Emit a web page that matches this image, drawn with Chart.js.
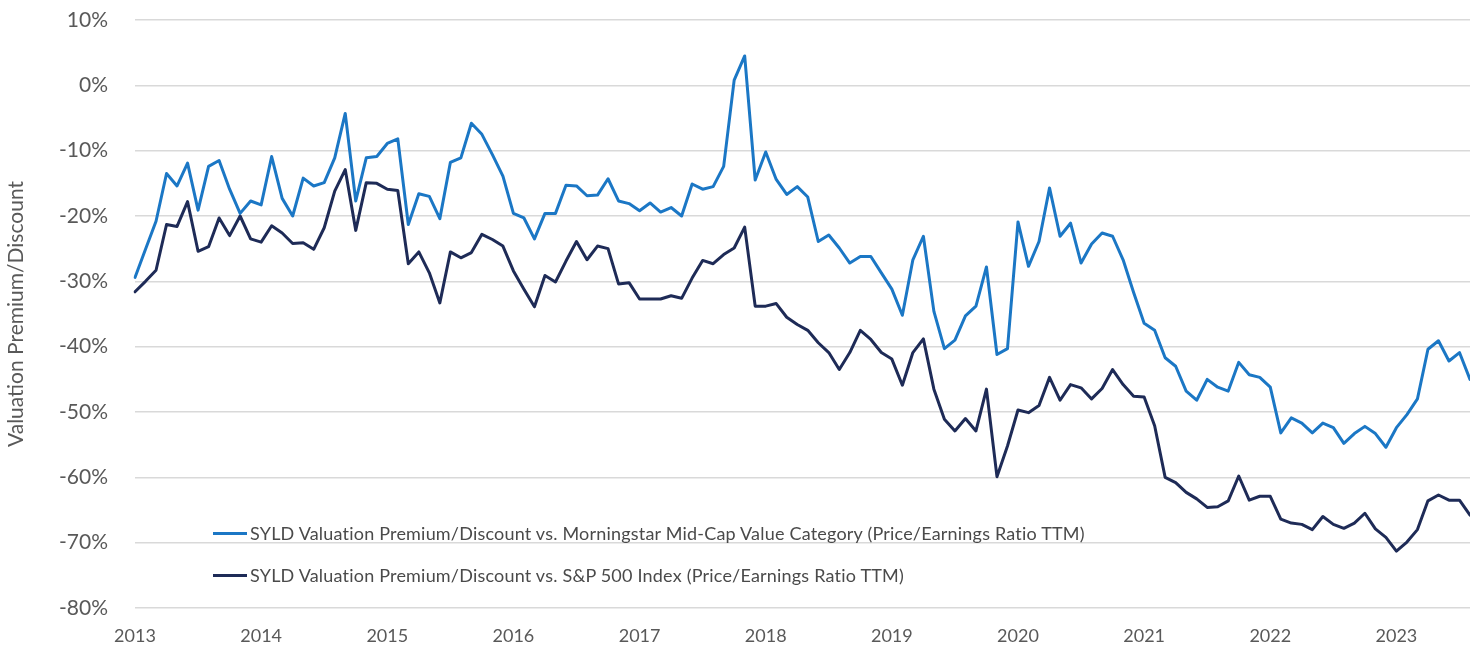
<!DOCTYPE html>
<html>
<head>
<meta charset="utf-8">
<script src="https://cdn.jsdelivr.net/npm/chart.js@4.4.1/dist/chart.umd.min.js"></script>
<style>
  html, body { margin: 0; padding: 0; background: #fff; }
  #wrap { position: relative; width: 1470px; height: 650px; }
  #legend { position: absolute; left: 213px; top: 512px; font-family: Lato, sans-serif; font-size: 18px; letter-spacing: 0.2px; color: #4a4a4a; }
  .legend-item { display: flex; align-items: center; height: 42px; white-space: nowrap; }
  .legend-line { width: 34px; height: 3px; margin-right: 3px; }
</style>
</head>
<body>
<div id="wrap">
  <canvas id="chart" width="1470" height="650"></canvas>
  <div id="legend"></div>
</div>
<script>
// Jahre auf der x-Achse (Monatsdaten ab Jan 2013)
const YEARS = ['2013', '2014', '2015', '2016', '2017', '2018', '2019', '2020', '2021', '2022', '2023'];
const MONTHS = ['Jan', 'Feb', 'Mar', 'Apr', 'May', 'Jun', 'Jul', 'Aug', 'Sep', 'Oct', 'Nov', 'Dec'];

const Y_TICKS = [10, 0, -10, -20, -30, -40, -50, -60, -70, -80];

const SERIES_NAMES = [
    'SYLD Valuation Premium/Discount vs. Morningstar Mid-Cap Value Category (Price/Earnings Ratio TTM)',
    'SYLD Valuation Premium/Discount vs. S&P 500 Index (Price/Earnings Ratio TTM)'
];

// vs. Morningstar Mid-Cap Value (%)
const midCapValues = [
    -29.4, -25.1, -20.8, -13.5, -15.4, -11.9, -19.1, -12.4, -11.5, -15.9, -19.6, -17.7,
    -18.3, -10.9, -17.3, -20.0, -14.2, -15.4, -14.9, -11.1, -4.3, -17.7, -11.1, -10.9,
    -8.9, -8.2, -21.3, -16.6, -17.0, -20.4, -11.8, -11.1, -5.8, -7.5, -10.6, -13.9,
    -19.6, -20.3, -23.5, -19.6, -19.6, -15.3, -15.4, -16.9, -16.8, -14.3, -17.7, -18.1,
    -19.2, -18.0, -19.4, -18.7, -20.0, -15.1, -15.9, -15.5, -12.4, 0.8, 4.5, -14.5,
    -10.2, -14.4, -16.7, -15.5, -17.1, -23.9, -22.9, -24.9, -27.2, -26.2, -26.2, -28.7,
    -31.2, -35.2, -26.7, -23.1, -34.6, -40.3, -39.0, -35.3, -33.8, -27.8, -41.2, -40.3,
    -20.9, -27.7, -23.9, -15.7, -23.1, -21.1, -27.2, -24.3, -22.6, -23.1, -26.7, -31.7,
    -36.4, -37.5, -41.7, -43.0, -46.8, -48.2, -45.0, -46.2, -46.8, -42.4, -44.3, -44.7,
    -46.2, -53.2, -50.9, -51.7, -53.2, -51.7, -52.4, -54.8, -53.3, -52.2, -53.3, -55.4,
    -52.4, -50.4, -48.0, -40.4, -39.1, -42.2, -40.9, -45.0
];

// vs. S&P 500 (%)
const sp500Values = [
    -31.6, -30.0, -28.3, -21.3, -21.6, -17.8, -25.4, -24.7, -20.3, -23.0, -20.0, -23.5,
    -24.0, -21.5, -22.6, -24.2, -24.1, -25.1, -21.8, -16.2, -12.9, -22.2, -14.9, -15.0,
    -15.9, -16.1, -27.3, -25.5, -28.7, -33.3, -25.5, -26.4, -25.6, -22.8, -23.6, -24.6,
    -28.4, -31.2, -33.9, -29.1, -30.1, -26.9, -23.9, -26.7, -24.6, -25.0, -30.4, -30.2,
    -32.7, -32.7, -32.7, -32.2, -32.6, -29.5, -26.8, -27.3, -25.9, -24.9, -21.7, -33.8,
    -33.8, -33.4, -35.5, -36.6, -37.5, -39.4, -40.9, -43.5, -40.9, -37.5, -38.9, -40.9,
    -41.9, -45.9, -40.9, -38.8, -46.5, -51.1, -52.9, -51.0, -52.9, -46.5, -59.9, -55.2,
    -49.7, -50.1, -49.0, -44.7, -48.2, -45.8, -46.3, -48.0, -46.4, -43.5, -45.8, -47.6,
    -47.7, -52.1, -60.0, -60.8, -62.3, -63.3, -64.6, -64.5, -63.6, -59.8, -63.5, -62.9,
    -62.9, -66.4, -67.0, -67.2, -68.0, -66.0, -67.2, -67.8, -67.0, -65.5, -67.9, -69.2,
    -71.3, -69.9, -68.0, -63.6, -62.7, -63.5, -63.5, -65.8
];

const COLORS = ['#1b77c5', '#1e2b57'];
const TEXT_GRAY = '#595959';

// Monatslabels Jan 2013 ... bis zur Länge der Daten
const labels = [];
YEARS.forEach(y => MONTHS.forEach(m => labels.push(m + ' ' + y)));
labels.length = midCapValues.length;

const ctx = document.getElementById('chart').getContext('2d');

const chart = new Chart(ctx, {
    type: 'line',
    data: {
        labels: labels,
        datasets: [
            { label: SERIES_NAMES[0], data: midCapValues, borderColor: COLORS[0], backgroundColor: COLORS[0] },
            { label: SERIES_NAMES[1], data: sp500Values, borderColor: COLORS[1], backgroundColor: COLORS[1] }
        ]
    },
    options: {
        responsive: false,
        animation: false,
        layout: { padding: { top: 20, right: 0, left: 0, bottom: 0 } },
        elements: {
            line: { borderWidth: 3, tension: 0, borderJoinStyle: 'round', borderCapStyle: 'round' },
            point: { radius: 0 }
        },
        plugins: {
            legend: { display: false },
            tooltip: { enabled: false }
        },
        scales: {
            x: {
                type: 'category',
                offset: false,
                grid: { display: false, drawTicks: false },
                border: { display: false },
                ticks: {
                    autoSkip: false,
                    maxRotation: 0,
                    padding: 17,
                    color: TEXT_GRAY,
                    font: { family: 'Lato', size: 18 },
                    callback: function (val) {
                        const lbl = this.getLabelForValue(val);
                        return lbl.startsWith('Jan') ? lbl.slice(4) : '';
                    }
                },
                afterFit: (scale) => {
                    scale.height = 42;
                    scale.paddingLeft = 0;
                    scale.paddingRight = 0;
                }
            },
            y: {
                min: -80,
                max: 10,
                afterBuildTicks: (scale) => { scale.ticks = Y_TICKS.map(v => ({ value: v })); },
                grid: { color: '#d9d9d9', lineWidth: 1.5, drawTicks: false },
                border: { display: false },
                ticks: {
                    padding: 27,
                    color: TEXT_GRAY,
                    font: { family: 'Lato', size: 21 },
                    callback: (v) => v + '%'
                },
                title: {
                    display: true,
                    text: 'Valuation Premium/Discount',
                    color: TEXT_GRAY,
                    font: { family: 'Lato', size: 21 },
                    padding: { top: 4, bottom: 0 }
                },
                afterFit: (scale) => {
                    scale.width = 135;
                    scale.paddingTop = 0;
                    scale.paddingBottom = 0;
                }
            }
        }
    }
});

// Legende als HTML innerhalb der Plotfläche
const legendEl = document.getElementById('legend');
chart.data.datasets.forEach(ds => {
    const item = document.createElement('div');
    item.className = 'legend-item';
    item.innerHTML = `<span class="legend-line" style="background:${ds.borderColor}"></span><span>${ds.label.replace('&', '&amp;')}</span>`;
    legendEl.appendChild(item);
});
</script>
</body>
</html>
